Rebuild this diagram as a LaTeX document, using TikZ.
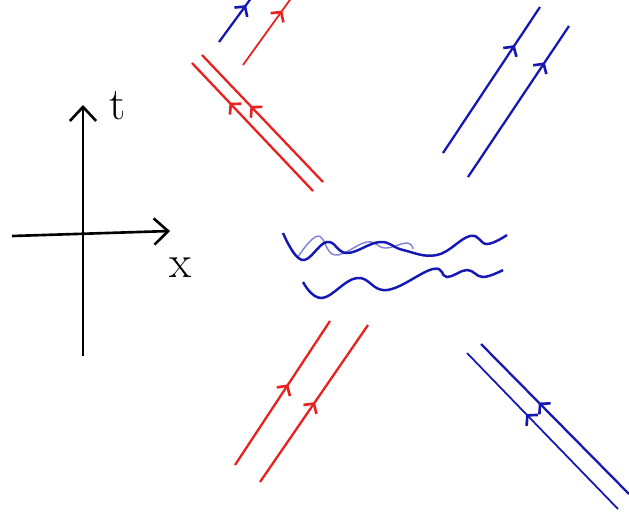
\documentclass[tikz,border=0pt]{standalone}
\usepackage{tikz}
\usetikzlibrary{arrows.meta,decorations.markings}
\definecolor{inkred}{RGB}{232,32,30}
\definecolor{inkblue}{RGB}{22,24,180}

\begin{document}
\begin{tikzpicture}[x=0.02cm, y=-0.02cm,
  axis/.style={line width=1.5pt, -{Straight Barb[length=8pt,width=15pt,line width=1.5pt]}},
  leg/.style={line width=1.3pt},
  midarrow/.style={postaction={decorate}, decoration={markings,
    mark=at position #1 with {\arrow{Straight Barb[length=4pt,width=9pt,line width=1.5pt]}}}},
  wave/.style={line width=1.4pt, inkblue},
  lbl/.style={font=\fontsize{26}{28}\selectfont, inner sep=0pt}]
\useasboundingbox (0,0) rectangle (629,512);
\clip (0,0) rectangle (629,512);

% Axes
\coordinate (tb) at (83,356);
\coordinate (tt) at (83,105);
\coordinate (xl) at (12,236);
\coordinate (xr) at (170,231);
\draw[axis] (tb) -- (tt);
\draw[axis] (xl) -- (xr);
\node[lbl] (tlab) at (118,106) {t};
\node[lbl] (xlab) at (181,268) {x};

% Incoming red pair (lower left)
\coordinate (e0) at (235,465); \coordinate (e1) at (330,321);
\coordinate (f0) at (260,482); \coordinate (f1) at (368,325);
\draw[leg, inkred, midarrow=0.56] (e0) -- (e1);
\draw[leg, inkred, midarrow=0.51] (f0) -- (f1);

% Incoming blue pair (lower right)
\coordinate (g0) at (618,509); \coordinate (g1) at (467,353);
\coordinate (h0) at (629,494); \coordinate (h1) at (481,344);
\draw[inkblue, line width=1pt, midarrow=0.61] (g0) -- (g1);
\draw[leg, inkblue, midarrow=0.61] (h0) -- (h1);

% Outgoing red pair (upper left)
\coordinate (a0) at (313,191); \coordinate (a1) at (192,63);
\coordinate (b0) at (323,182); \coordinate (b1) at (202,55);
\draw[leg, inkred, midarrow=0.69] (a0) -- (a1);
\draw[leg, inkred, midarrow=0.60] (b0) -- (b1);

% Outgoing blue pair (upper right)
\coordinate (c0) at (443,153); \coordinate (c1) at (540,7);
\coordinate (d0) at (468,177); \coordinate (d1) at (569,26);
\draw[leg, inkblue, midarrow=0.74] (c0) -- (c1);
\draw[leg, inkblue, midarrow=0.76] (d0) -- (d1);

% Short strands at the top
\coordinate (s0) at (219,42); \coordinate (s1) at (252,-3);
\coordinate (r0) at (243,65); \coordinate (r1) at (292,-3);
\draw[leg, inkblue, midarrow=0.82] (s0) -- (s1);
\draw[inkred, line width=1pt, midarrow=0.80] (r0) -- (r1);

% Wiggly lines in the middle
\draw[inkblue!55, line width=0.8pt] plot[smooth, tension=0.7] coordinates
  {(298,257) (318,236) (335,255) (367,242) (385,248) (407,243) (413,249)};
\draw[wave] plot[smooth, tension=0.7] coordinates
  {(283,233) (302,260) (327,242) (347,253) (380,242) (403,250) (437,255) (470,236) (487,244) (507,235)};
\draw[wave] plot[smooth, tension=0.7] coordinates
  {(303,282) (322,298) (357,278) (387,290) (433,269) (447,277) (467,270) (483,277) (503,270)};
\end{tikzpicture}
\end{document}
